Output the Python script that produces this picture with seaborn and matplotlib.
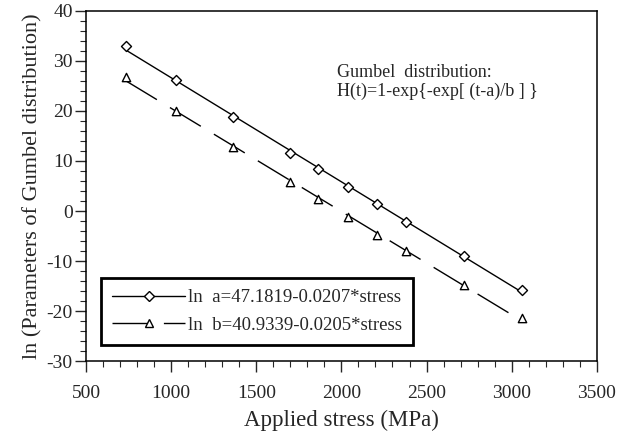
import numpy as np
import pandas as pd
import seaborn as sns
import matplotlib.pyplot as plt
from matplotlib.lines import Line2D
from matplotlib.ticker import MultipleLocator

# values
stress = [735, 1030, 1363, 1698, 1864, 2040, 2211, 2382, 2722, 3062]
ln_a = [33.0, 26.1, 18.7, 11.6, 8.3, 4.7, 1.3, -2.2, -8.9, -15.7]
ln_b = [26.7, 20.0, 12.8, 5.8, 2.3, -1.2, -4.7, -8.0, -14.8, -21.4]
label_a = 'ln  a=47.1819-0.0207*stress'
label_b = 'ln  b=40.9339-0.0205*stress'
note = 'Gumbel  distribution:\nH(t)=1-exp{-exp[ (t-a)/b ] }'

df = pd.DataFrame({'stress': stress, 'ln_a': ln_a, 'ln_b': ln_b})

sns.set_style('ticks')
plt.rcParams['font.family'] = ['Liberation Serif', 'DejaVu Serif']
plt.rcParams['axes.unicode_minus'] = False

fig = plt.figure(figsize=(6.23, 4.32), dpi=100)
ax = fig.add_axes([0.138, 0.164, 0.820, 0.811])

dash = (0, (26, 11))
sns.regplot(data=df, x='stress', y='ln_a', ci=None, scatter=False, ax=ax,
            line_kws={'color': 'black', 'lw': 1.0})
sns.regplot(data=df, x='stress', y='ln_b', ci=None, scatter=False, ax=ax,
            line_kws={'color': 'black', 'lw': 1.0, 'linestyle': dash})
sns.scatterplot(data=df, x='stress', y='ln_a', marker='D', s=26, color='white',
                edgecolor='black', linewidth=1.0, ax=ax, zorder=3)
sns.scatterplot(data=df, x='stress', y='ln_b', marker='^', s=36, color='white',
                edgecolor='black', linewidth=1.0, ax=ax, zorder=3)

ax.set_xlim(500, 3500)
ax.set_ylim(-30, 40)
ax.xaxis.set_major_locator(MultipleLocator(500))
ax.xaxis.set_minor_locator(MultipleLocator(100))
ax.yaxis.set_major_locator(MultipleLocator(10))
ax.yaxis.set_minor_locator(MultipleLocator(2))
ax.tick_params(which='major', direction='out', length=8, width=1, labelsize=14)
ax.tick_params(axis='x', which='major', pad=9)
ax.tick_params(axis='y', which='major', pad=1.5)
ax.tick_params(which='minor', direction='out', length=4, width=0.8)
for s in ax.spines.values():
    s.set_visible(True)
    s.set_linewidth(1.1)
    s.set_color('black')

ax.set_xlabel('Applied stress (MPa)', fontsize=16.5, labelpad=6)
ax.set_ylabel('ln (Parameters of Gumbel distribution)', fontsize=16, labelpad=3)

ax.text(0.491, 0.796, note, transform=ax.transAxes, fontsize=13,
        va='center', ha='left', linespacing=1.1)

handles = [
    Line2D([], [], color='black', lw=1.0, marker='D', markersize=5,
           markerfacecolor='white', markeredgecolor='black'),
    Line2D([], [], color='black', lw=1.0, linestyle=dash, marker='^', markersize=6,
           markerfacecolor='white', markeredgecolor='black'),
]
leg = ax.legend(handles, [label_a, label_b], loc='lower left',
                bbox_to_anchor=(0.029, 0.046), borderaxespad=0, fontsize=13.5,
                handlelength=3.9, handletextpad=0.15, labelspacing=0.55,
                borderpad=0.6, fancybox=False, framealpha=1, edgecolor='black')
leg.get_frame().set_linewidth(2)

fig.savefig('out.png', dpi=100)
